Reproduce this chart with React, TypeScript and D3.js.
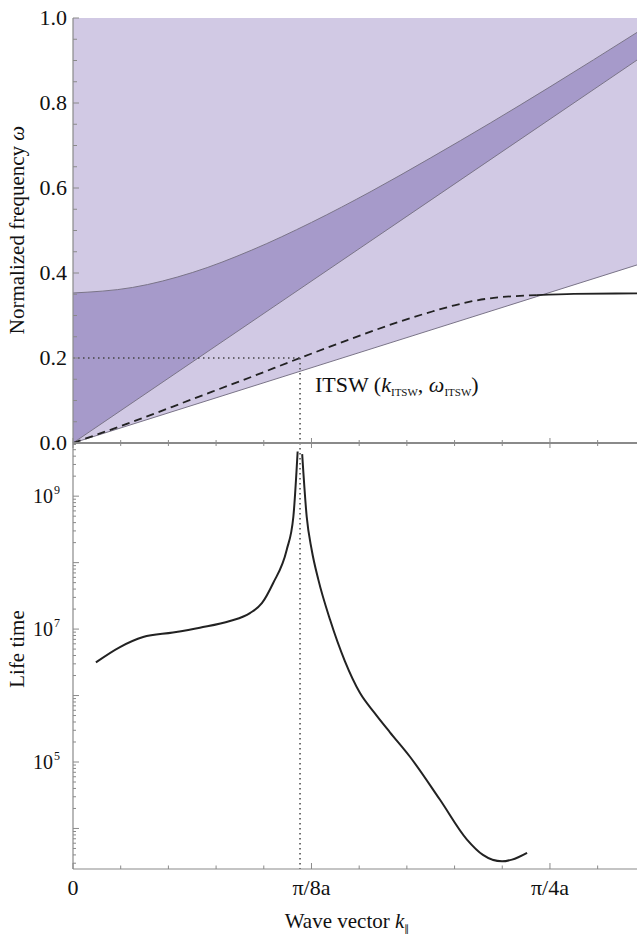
import React from "react";
import * as d3 from "d3";

// k is in units of pi/8a, omega is normalized
const xTickValues = [0, 1, 2];
const xTickLabels = ["0", "π/8a", "π/4a"];
const kMax = 2.365;

const omegaTicks = [0, 0.2, 0.4, 0.6, 0.8, 1.0];
const lifeLabelExps = [5, 7, 9];

// light line (lower edge of light region)
const lightLineK = [0, 2.365];
const lightLineW = [0, 0.419];

// dark band
const bandLowK = [0, 2.365];
const bandLowW = [0, 0.901];
const bandHighK = [0, 0.25, 0.5, 0.75, 1, 1.25, 1.5, 1.75, 2, 2.365];
const bandHighW = [0.353, 0.366, 0.401, 0.454, 0.519, 0.592, 0.671, 0.753, 0.838, 0.966];

// dispersion: leaky part (dashed) and bound part (solid)
const leakyK = [0, 0.25, 0.5, 0.75, 0.952, 1.2, 1.371, 1.51, 1.6, 1.669, 1.73, 1.79, 1.904, 1.945];
const leakyW = [0, 0.05, 0.103, 0.156, 0.2, 0.252, 0.286, 0.31, 0.324, 0.333, 0.339, 0.343, 0.347, 0.348];
const boundK = [1.945, 2.1, 2.365];
const boundW = [0.348, 0.351, 0.352];

const itswK = 0.952;
const itswW = 0.2;

// life time, two branches around the ITSW peak
const lifeLeftK = [0.096, 0.197, 0.294, 0.419, 0.532, 0.658, 0.742, 0.792, 0.839, 0.896, 0.924, 0.942];
const lifeLeftT = [3.16e6, 5.37e6, 7.6e6, 8.9e6, 1.05e7, 1.32e7, 1.74e7, 2.45e7, 4.9e7, 1.55e8, 4.9e8, 4.7e9];
const lifeRightK = [0.961, 0.98, 1.001, 1.029, 1.078, 1.14, 1.203, 1.266, 1.329, 1.413, 1.539, 1.652, 1.719, 1.799, 1.841, 1.904];
const lifeRightT = [4.3e9, 4.9e8, 1.55e8, 5.5e7, 1.38e7, 3.3e6, 1.1e6, 5.4e5, 2.8e5, 1.2e5, 2.7e4, 6.8e3, 4.0e3, 3.2e3, 3.4e3, 4.3e3];

const W = 637;
const H = 935;
const FONT = "'Liberation Serif', 'Times New Roman', serif";
const LIGHT = "#d1c9e4";
const DARK = "#a69aca";
const EDGE = "#7a7488";
const AXIS = "#8a8a8a";

const zip = (a: number[], b: number[]) => a.map((v, i) => [v, b[i]] as [number, number]);

const App = () => {
  const x = d3.scaleLinear().domain([0, kMax]).range([73, 637]);
  const yTop = d3.scaleLinear().domain([0, 1]).range([443, 18]);
  const yBot = d3.scaleLog().domain([Math.pow(10, 3.39), Math.pow(10, 9.8)]).range([869, 443]);
  const bottomY = yBot.range()[0];

  const straightTop = d3
    .line<[number, number]>()
    .x((d) => x(d[0]))
    .y((d) => yTop(d[1]));
  const smoothTop = d3
    .line<[number, number]>()
    .x((d) => x(d[0]))
    .y((d) => yTop(d[1]))
    .curve(d3.curveMonotoneX);
  const lifeLine = d3
    .line<[number, number]>()
    .x((d) => x(d[0]))
    .y((d) => yBot(d[1]))
    .curve(d3.curveMonotoneX);

  const lightArea = d3
    .area<[number, number]>()
    .x((d) => x(d[0]))
    .y0(yTop(1))
    .y1((d) => yTop(d[1]));

  const bandLow = d3.scaleLinear().domain(bandLowK).range(bandLowW);
  const darkArea = d3
    .area<[number, number]>()
    .x((d) => x(d[0]))
    .y0((d) => yTop(bandLow(d[0])))
    .y1((d) => yTop(d[1]))
    .curve(d3.curveMonotoneX);

  const xMinor = d3.range(0, kMax, 0.2);
  const omegaMinor = d3.range(0, 1.0001, 0.05);
  const logTicks = yBot.ticks();

  const isMajorX = (v: number) => Math.abs(v - Math.round(v)) < 1e-6;
  const isDecade = (v: number) => Math.abs(Math.log10(v) - Math.round(Math.log10(v))) < 1e-6;

  return (
    <svg
      width={W}
      height={H}
      style={{ position: "absolute", left: 0, top: 0, background: "#fff" }}
      fontFamily={FONT}
    >
      {/* top panel fills */}
      <path d={lightArea(zip(lightLineK, lightLineW)) || ""} fill={LIGHT} />
      <path d={darkArea(zip(bandHighK, bandHighW)) || ""} fill={DARK} />
      <path d={straightTop(zip(lightLineK, lightLineW)) || ""} fill="none" stroke={EDGE} strokeWidth={1} />
      <path d={straightTop(zip(bandLowK, bandLowW)) || ""} fill="none" stroke={EDGE} strokeWidth={1} />
      <path d={smoothTop(zip(bandHighK, bandHighW)) || ""} fill="none" stroke={EDGE} strokeWidth={1} />

      {/* dispersion */}
      <path
        d={smoothTop(zip(leakyK, leakyW)) || ""}
        fill="none"
        stroke="#222"
        strokeWidth={1.8}
        strokeDasharray="8 5"
      />
      <path d={smoothTop(zip(boundK, boundW)) || ""} fill="none" stroke="#222" strokeWidth={1.8} />

      {/* ITSW guides */}
      <line
        x1={x(0)}
        x2={x(itswK)}
        y1={yTop(itswW)}
        y2={yTop(itswW)}
        stroke="#444"
        strokeWidth={1.5}
        strokeDasharray="1.5 3.5"
      />
      <line
        x1={x(itswK)}
        x2={x(itswK)}
        y1={yTop(itswW)}
        y2={bottomY}
        stroke="#444"
        strokeWidth={1.5}
        strokeDasharray="1.5 3.5"
      />
      <text x={315} y={392} fontSize={22} fill="#111">
        ITSW (<tspan fontStyle="italic">k</tspan>
        <tspan fontSize={11} dy={4}>ITSW</tspan>
        <tspan dy={-4}>, </tspan>
        <tspan fontStyle="italic">ω</tspan>
        <tspan fontSize={11} dy={4}>ITSW</tspan>
        <tspan dy={-4}>)</tspan>
      </text>

      {/* life time curve */}
      <path d={lifeLine(zip(lifeLeftK, lifeLeftT)) || ""} fill="none" stroke="#222" strokeWidth={2} />
      <path d={lifeLine(zip(lifeRightK, lifeRightT)) || ""} fill="none" stroke="#222" strokeWidth={2} />

      {/* axes */}
      <line x1={x(0)} x2={x(0)} y1={yTop(1)} y2={bottomY} stroke={AXIS} strokeWidth={1.2} />
      <line x1={x(0)} x2={W} y1={yTop(0)} y2={yTop(0)} stroke={AXIS} strokeWidth={2} />
      <line x1={x(0)} x2={W} y1={bottomY} y2={bottomY} stroke={AXIS} strokeWidth={1.2} />

      {/* omega ticks */}
      {omegaMinor.map((v, i) => (
        <line
          key={"om" + i}
          x1={x(0)}
          x2={x(0) + (i % 4 === 0 ? 6 : 4)}
          y1={yTop(v)}
          y2={yTop(v)}
          stroke={AXIS}
          strokeWidth={1}
        />
      ))}
      {omegaTicks.map((v) => (
        <text key={"ot" + v} x={67} y={yTop(v)} dy="0.34em" textAnchor="end" fontSize={22} fill="#111">
          {v.toFixed(1)}
        </text>
      ))}

      {/* k ticks on both panels */}
      {xMinor.map((v, i) => {
        const major = isMajorX(v);
        return (
          <g key={"xt" + i}>
            <line
              x1={x(v)}
              x2={x(v)}
              y1={yTop(0) - (major ? 5 : 3)}
              y2={yTop(0) + (major ? 5 : 3)}
              stroke={AXIS}
              strokeWidth={1}
            />
            <line
              x1={x(v)}
              x2={x(v)}
              y1={bottomY}
              y2={bottomY - (major ? 6 : 3.5)}
              stroke={AXIS}
              strokeWidth={1}
            />
          </g>
        );
      })}
      {xTickValues.map((v, i) => (
        <text key={"xl" + v} x={x(v)} y={895} textAnchor="middle" fontSize={22} fill="#111">
          {xTickLabels[i]}
        </text>
      ))}

      {/* log ticks */}
      {logTicks.map((v, i) => (
        <line
          key={"lt" + i}
          x1={x(0)}
          x2={x(0) + (isDecade(v) ? 6 : 3)}
          y1={yBot(v)}
          y2={yBot(v)}
          stroke={AXIS}
          strokeWidth={1}
        />
      ))}
      {lifeLabelExps.map((e) => (
        <text
          key={"ll" + e}
          x={60}
          y={yBot(Math.pow(10, e))}
          dy="0.34em"
          textAnchor="end"
          fontSize={20}
          fill="#111"
        >
          10
          <tspan fontSize={12} dx={1} dy={-9}>
            {e}
          </tspan>
        </text>
      ))}

      {/* axis titles */}
      <text transform={`translate(24,230) rotate(-90)`} textAnchor="middle" fontSize={21} fill="#111">
        Normalized frequency <tspan fontStyle="italic">ω</tspan>
      </text>
      <text transform={`translate(24,649) rotate(-90)`} textAnchor="middle" fontSize={21} fill="#111">
        Life time
      </text>
      <text x={347} y={928} textAnchor="middle" fontSize={21} fill="#111">
        Wave vector <tspan fontStyle="italic">k</tspan>
        <tspan fontSize={10} dy={4} fontFamily="'DejaVu Sans'" fill="#111">
          ∥
        </tspan>
      </text>
    </svg>
  );
};

export default App;
